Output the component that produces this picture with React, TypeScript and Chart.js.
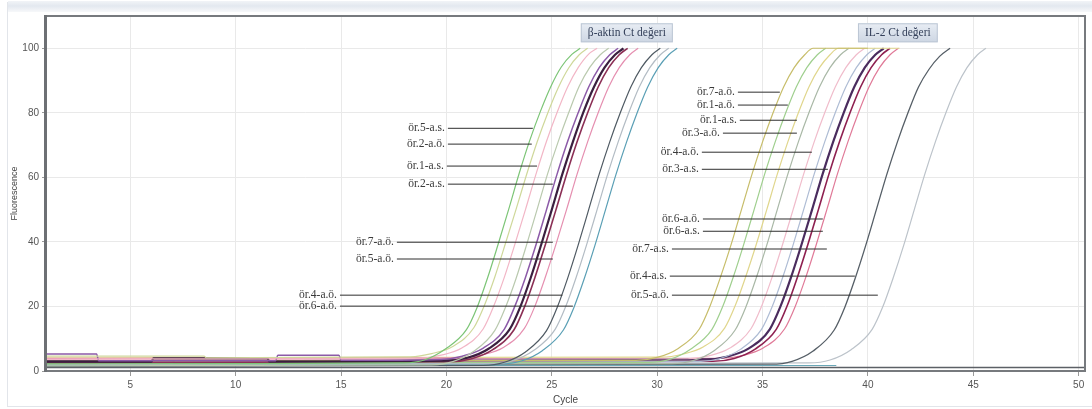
import React, { useEffect, useRef } from "react";
import { Chart, registerables } from "chart.js";

Chart.register(...registerables);

// ---- axis ticks ----
const X_TICKS = [5, 10, 15, 20, 25, 30, 35, 40, 45, 50];
const Y_TICKS = [0, 20, 40, 60, 80, 100];

// ---- β-aktin amplification curves: [cycle, fluorescence] ----
const ACT_1: number[][] = [[1, 2.2], [10, 2.3], [17.95, 2.5], [18.95, 3.4], [19.95, 6.8], [20.95, 12.8], [21.45, 19.6], [21.95, 28.8], [22.45, 39.2], [22.95, 50], [23.45, 61.2], [23.95, 71.4], [24.45, 80.3], [24.95, 88.1], [25.45, 94.2], [25.95, 98.1], [26.35, 100]];
const ACT_2: number[][] = [[1, 4.6], [8.5, 4.6], [8.6, 4.1], [18.3, 4.4], [19.3, 5.4], [20.3, 7.6], [21.3, 13.4], [21.8, 20.3], [22.3, 29.2], [22.8, 39.5], [23.3, 50], [23.8, 60.8], [24.3, 70.9], [24.8, 79.8], [25.3, 87.7], [25.8, 93.9], [26.3, 98], [26.7, 100]];
const ACT_3: number[][] = [[1, 3.7], [14, 3.8], [18.75, 4.0], [19.75, 4.9], [20.75, 7.2], [21.75, 13.1], [22.25, 20.2], [22.75, 29.1], [23.25, 39.3], [23.75, 50], [24.25, 61], [24.75, 71.2], [25.25, 80.1], [25.75, 88], [26.25, 94], [26.75, 98.2], [27.15, 100]];
const ACT_4: number[][] = [[1, 1.6], [19.3, 1.9], [20.3, 2.9], [21.3, 6.1], [22.3, 12.6], [22.8, 19.7], [23.3, 28.6], [23.8, 39], [24.3, 50], [24.8, 61.1], [25.3, 71], [25.8, 80], [26.3, 88.2], [26.8, 94.1], [27.3, 98], [27.7, 100]];
const ACT_5: number[][] = [[1, 5.3], [3.4, 5.3], [3.5, 3.2], [11.9, 3.2], [12, 4.9], [14.9, 4.9], [15, 3.3], [19.75, 3.6], [20.75, 4.6], [21.75, 7.1], [22.75, 13], [23.25, 20.1], [23.75, 29], [24.25, 39.1], [24.75, 50], [25.25, 61], [25.75, 71.1], [26.25, 80], [26.75, 88], [27.25, 94], [27.75, 98], [28.15, 100]];
const ACT_6: number[][] = [[1, 2.9], [6, 2.9], [6.1, 3.9], [11.5, 3.9], [11.6, 2.9], [20, 3.2], [21, 4.1], [22, 6.9], [23, 12.9], [23.5, 19.8], [24, 28.9], [24.5, 39.2], [25, 50], [25.5, 61], [26, 71], [26.5, 80.2], [27, 88], [27.5, 94], [28, 98], [28.4, 100]];
const ACT_7: number[][] = [[1, 2.6], [20.2, 2.9], [21.2, 3.8], [22.2, 6.6], [23.2, 12.7], [23.7, 19.8], [24.2, 29], [24.7, 39.3], [25.2, 50], [25.7, 60.9], [26.2, 71], [26.7, 80], [27.2, 88], [27.7, 94], [28.2, 98], [28.6, 100]];
const ACT_8: number[][] = [[1, 3.9], [20.7, 4.1], [21.7, 5], [22.7, 7.3], [23.7, 13.2], [24.2, 20.1], [24.7, 29.2], [25.2, 39.3], [25.7, 50], [26.2, 61], [26.7, 71], [27.2, 80], [27.7, 88], [28.2, 94], [28.7, 98], [29.1, 100]];
const ACT_9: number[][] = [[1, 1.4], [21.75, 1.7], [22.75, 2.7], [23.75, 5.9], [24.75, 12.5], [25.25, 19.6], [25.75, 28.7], [26.25, 39], [26.75, 50], [27.25, 61], [27.75, 71], [28.25, 80], [28.75, 88], [29.25, 94], [29.75, 98], [30.15, 100]];
const ACT_10: number[][] = [[1, 2.0], [22.15, 2.3], [23.15, 3.2], [24.15, 6.4], [25.15, 12.8], [25.65, 19.8], [26.15, 28.9], [26.65, 39.1], [27.15, 50], [27.65, 61], [28.15, 71], [28.65, 80], [29.15, 88], [29.65, 94], [30.15, 98], [30.55, 100]];
const ACT_11: number[][] = [[1, 1.9], [22.55, 2.2], [23.55, 3.1], [24.55, 6.3], [25.55, 12.7], [26.05, 19.7], [26.55, 28.8], [27.05, 39], [27.55, 50], [28.05, 61], [28.55, 71], [29.05, 80], [29.55, 88], [30.05, 94], [30.55, 98], [30.95, 100]];

// ---- IL-2 amplification curves ----
const IL_1: number[][] = [[1, 3.0], [29, 3.3], [30, 4.2], [31, 7], [32, 13], [32.5, 20], [33, 29], [33.5, 39], [34, 50], [34.5, 61], [35, 71], [35.5, 80], [36, 88], [36.5, 94], [37, 98], [37.4, 100], [40, 100]];
const IL_2: number[][] = [[1, 2.4], [29.6, 2.7], [30.6, 3.6], [31.6, 6.8], [32.6, 12.9], [33.1, 19.8], [33.6, 28.9], [34.1, 39.1], [34.6, 50], [35.1, 61], [35.6, 71], [36.1, 80], [36.6, 88], [37.1, 94], [37.6, 98], [38, 100]];
const IL_3: number[][] = [[1, 4.1], [30.2, 4.3], [31.2, 5.2], [32.2, 7.5], [33.2, 13.3], [33.7, 20.2], [34.2, 29.2], [34.7, 39.2], [35.2, 50], [35.7, 61], [36.2, 71], [36.7, 80], [37.2, 88], [37.7, 94], [38.2, 98], [38.6, 100], [41.5, 100]];
const IL_4: number[][] = [[1, 2.0], [30.7, 2.3], [31.7, 3.2], [32.7, 6.3], [33.7, 12.7], [34.2, 19.7], [34.7, 28.8], [35.2, 39], [35.7, 50], [36.2, 61], [36.7, 71], [37.2, 80], [37.7, 88], [38.2, 94], [38.7, 98], [39.1, 100]];
const IL_5: number[][] = [[1, 3.5], [31.45, 3.8], [32.45, 4.7], [33.45, 7.1], [34.45, 13.1], [34.95, 20], [35.45, 29], [35.95, 39.2], [36.45, 50], [36.95, 61], [37.45, 71], [37.95, 80], [38.45, 88], [38.95, 94], [39.45, 98], [39.85, 100]];
const IL_6: number[][] = [[1, 2.6], [31.95, 2.9], [32.95, 3.8], [33.95, 6.7], [34.95, 12.9], [35.45, 19.8], [35.95, 28.9], [36.45, 39.1], [36.95, 50], [37.45, 61], [37.95, 71], [38.45, 80], [38.95, 88], [39.45, 94], [39.95, 98], [40.35, 100]];
const IL_7: number[][] = [[1, 3.3], [7, 3.3], [7.1, 2.4], [11.4, 2.4], [11.5, 3.3], [32.35, 3.6], [33.35, 4.5], [34.35, 7], [35.35, 13], [35.85, 20], [36.35, 29], [36.85, 39.2], [37.35, 50], [37.85, 61], [38.35, 71], [38.85, 80], [39.35, 88], [39.85, 94], [40.35, 98], [40.75, 100]];
const IL_8: number[][] = [[1, 2.7], [32.65, 3.0], [33.65, 3.9], [34.65, 6.8], [35.65, 12.9], [36.15, 19.9], [36.65, 29], [37.15, 39.2], [37.65, 50], [38.15, 61], [38.65, 71], [39.15, 80], [39.65, 88], [40.15, 94], [40.65, 98], [41.05, 100]];
const IL_9: number[][] = [[1, 3.6], [33.05, 3.9], [34.05, 4.8], [35.05, 7.2], [36.05, 13.1], [36.55, 20], [37.05, 29], [37.55, 39.2], [38.05, 50], [38.55, 61], [39.05, 71], [39.55, 80], [40.05, 88], [40.55, 94], [41.05, 98], [41.45, 100]];
const IL_10: number[][] = [[1, 1.8], [35.4, 2.1], [36.4, 3.0], [37.4, 6.2], [38.4, 12.7], [38.9, 19.7], [39.4, 28.8], [39.9, 39], [40.4, 50], [40.9, 61], [41.4, 71], [41.9, 80], [42.4, 88], [42.9, 93.5], [43.4, 97.5], [43.9, 100]];
const IL_11: number[][] = [[1, 2.2], [37.2, 2.5], [38.2, 3.4], [39.2, 6.6], [40.2, 12.9], [40.7, 19.8], [41.2, 28.9], [41.7, 39], [42.2, 50], [42.7, 61], [43.2, 71], [43.7, 80], [44.2, 88], [44.7, 94], [45.2, 98], [45.6, 100]];

// ---- flat (non-amplifying) traces ----
const NTC_1: number[][] = [[1, 1.1], [50.3, 1.1]];
const NTC_2: number[][] = [[1, 1.7], [38.5, 1.7]];

// ---- curve styling (kept separate from values) ----
const CURVES = [
  { d: ACT_1, c: "#7cc576", w: 1.2 },
  { d: ACT_2, c: "#cfd89a", w: 1.2 },
  { d: ACT_3, c: "#f2b6c6", w: 1.2 },
  { d: ACT_4, c: "#b9c9ae", w: 1.2 },
  { d: ACT_5, c: "#8c5aa8", w: 1.5 },
  { d: ACT_6, c: "#3a1f3f", w: 2.2 },
  { d: ACT_7, c: "#8b2f55", w: 1.6 },
  { d: ACT_8, c: "#e58fb0", w: 1.2 },
  { d: ACT_9, c: "#4f5a63", w: 1.2 },
  { d: ACT_10, c: "#b3bcc4", w: 1.2 },
  { d: ACT_11, c: "#5a9fb5", w: 1.2 },
  { d: IL_1, c: "#c7bd6a", w: 1.2 },
  { d: IL_2, c: "#9fcf8e", w: 1.2 },
  { d: IL_3, c: "#e0d68c", w: 1.2 },
  { d: IL_4, c: "#a9b8a6", w: 1.2 },
  { d: IL_5, c: "#f0bccb", w: 1.2 },
  { d: IL_6, c: "#aebcd4", w: 1.2 },
  { d: IL_7, c: "#4a2c5e", w: 2.2 },
  { d: IL_8, c: "#8e2050", w: 1.6 },
  { d: IL_9, c: "#e07a98", w: 1.2 },
  { d: IL_10, c: "#555e66", w: 1.3 },
  { d: IL_11, c: "#bcc3ca", w: 1.2 },
  { d: NTC_1, c: "#5c6066", w: 1.5 },
  { d: NTC_2, c: "#6aa8b8", w: 1.2 },
];

// ---- sample annotations (label, level, line from -> to in cycles) ----
const ANN_LABELS = [
  "ör.5-a.s.", "ör.2-a.ö.", "ör.1-a.s.", "ör.2-a.s.", "ör.7-a.ö.", "ör.5-a.ö.", "ör.4-a.ö.", "ör.6-a.ö.",
  "ör.7-a.ö.", "ör.1-a.ö.", "ör.1-a.s.", "ör.3-a.ö.", "ör.4-a.ö.", "ör.3-a.s.", "ör.6-a.ö.", "ör.6-a.s.", "ör.7-a.s.", "ör.4-a.s.", "ör.5-a.ö.",
];
const ANN_Y = [75.2, 70.3, 63.5, 57.9, 39.9, 34.7, 23.5, 20.1, 86.4, 82.4, 77.7, 73.7, 67.8, 62.5, 47.1, 43.3, 37.8, 29.4, 23.5];
const ANN_X0 = [20.07, 20.07, 20.02, 20.07, 17.65, 17.65, 14.95, 14.95, 33.83, 33.83, 33.92, 33.12, 32.12, 32.12, 32.17, 32.17, 30.7, 30.6, 30.7];
const ANN_X1 = [24.1, 24.05, 24.3, 25.05, 25.05, 25.05, 25.5, 26.0, 35.82, 36.2, 36.63, 36.63, 37.34, 38.1, 37.86, 37.86, 38.05, 39.38, 40.47];

// ---- header boxes ----
const BOX_LABELS = ["β-aktin Ct değeri", "IL-2 Ct değeri"];
const BOX_X = [28.56, 41.42];
const BOX_Y = [104.8, 104.8];

const overlay = {
  id: "overlay",
  beforeDraw(chart: any) {
    const { ctx, width, height } = chart;
    ctx.save();
    ctx.fillStyle = "#ffffff";
    ctx.fillRect(0, 0, width, height);
    const g = ctx.createLinearGradient(0, 0, 0, 12);
    g.addColorStop(0, "#f4f6f9");
    g.addColorStop(0.5, "#e3e8ef");
    g.addColorStop(1, "#f7f8fa");
    ctx.fillStyle = g;
    ctx.fillRect(8, 1, width - 8, 11);
    ctx.strokeStyle = "#e2e5ea";
    ctx.lineWidth = 1;
    ctx.beginPath();
    ctx.moveTo(7.5, 2);
    ctx.lineTo(7.5, height - 2);
    ctx.moveTo(8, height - 2.5);
    ctx.lineTo(width, height - 2.5);
    ctx.stroke();
    ctx.restore();
  },
  afterDatasetsDraw(chart: any) {
    const { ctx, chartArea: a, scales } = chart;
    const xs = scales.x;
    const ys = scales.y;
    ctx.save();
    // plot frame
    ctx.strokeStyle = "#777a7e";
    ctx.lineWidth = 2;
    ctx.strokeRect(a.left, a.top, a.right - a.left, a.bottom - a.top);
    ctx.fillStyle = "#6d7074";
    ctx.fillRect(a.left - 2, a.top - 1, 3, a.bottom - a.top + 2);
    // annotation labels
    ctx.font = "11.5px 'Liberation Serif', serif";
    ctx.fillStyle = "#3a3a3a";
    ctx.textAlign = "right";
    ctx.textBaseline = "middle";
    ANN_LABELS.forEach((t, i) => {
      const px = xs.getPixelForValue(ANN_X0[i]);
      const py = ys.getPixelForValue(ANN_Y[i]);
      ctx.fillText(t, px - 3, py);
    });
    // header boxes
    ctx.font = "11.5px 'Liberation Serif', serif";
    ctx.textAlign = "center";
    BOX_LABELS.forEach((t, i) => {
      const cx = xs.getPixelForValue(BOX_X[i]);
      const cy = ys.getPixelForValue(BOX_Y[i]);
      const w = ctx.measureText(t).width + 14;
      const h = 19;
      const gr = ctx.createLinearGradient(0, cy - h / 2, 0, cy + h / 2);
      gr.addColorStop(0, "#e8edf4");
      gr.addColorStop(1, "#cdd6e3");
      ctx.fillStyle = gr;
      ctx.fillRect(cx - w / 2, cy - h / 2, w, h);
      ctx.strokeStyle = "#bcc6d4";
      ctx.lineWidth = 1;
      ctx.strokeRect(cx - w / 2 + 0.5, cy - h / 2 + 0.5, w - 1, h - 1);
      ctx.fillStyle = "#34405a";
      ctx.fillText(t, cx, cy + 0.5);
    });
    ctx.restore();
  },
};

export default function App() {
  const ref = useRef<HTMLCanvasElement | null>(null);

  useEffect(() => {
    document.body.style.margin = "0";
    const canvas = ref.current;
    if (!canvas) return;

    const annSets = ANN_LABELS.map((_, i) => ({
      label: "ann" + i,
      data: [
        { x: ANN_X0[i], y: ANN_Y[i] },
        { x: ANN_X1[i], y: ANN_Y[i] },
      ],
      borderColor: "#2e2e2e",
      borderWidth: 1,
      pointRadius: 0,
      tension: 0,
    }));

    const curveSets = CURVES.map((cv, i) => ({
      label: "curve" + i,
      data: cv.d.map((p) => ({ x: p[0], y: p[1] })),
      borderColor: cv.c,
      borderWidth: cv.w,
      pointRadius: 0,
      cubicInterpolationMode: "monotone" as const,
    }));

    const chart = new Chart(canvas, {
      type: "line",
      data: { datasets: [...annSets, ...curveSets] as any },
      plugins: [overlay],
      options: {
        animation: false,
        responsive: false,
        devicePixelRatio: 1,
        events: [],
        layout: { padding: { left: 0, right: 7, top: 16, bottom: 0 } },
        plugins: { legend: { display: false }, tooltip: { enabled: false } },
        scales: {
          x: {
            type: "linear",
            min: 1,
            max: 50.3,
            afterBuildTicks: (s: any) => {
              s.ticks = X_TICKS.map((v) => ({ value: v }));
            },
            afterFit: (s: any) => {
              s.height = 38;
            },
            grid: { color: "#e9e9e9", tickLength: 5, tickColor: "#9a9a9a", drawOnChartArea: true },
            border: { display: false },
            ticks: {
              font: { family: "'Liberation Sans', Arial, sans-serif", size: 10 },
              color: "#555",
              padding: 3,
              maxRotation: 0,
            },
            title: {
              display: true,
              text: "Cycle",
              font: { family: "'Liberation Sans', Arial, sans-serif", size: 10 },
              color: "#444",
              padding: { top: 0, bottom: 3 },
            },
          },
          y: {
            type: "linear",
            min: 0,
            max: 110,
            afterBuildTicks: (s: any) => {
              s.ticks = Y_TICKS.map((v) => ({ value: v }));
            },
            afterFit: (s: any) => {
              s.width = 46;
            },
            grid: { color: "#e9e9e9", tickLength: 4, tickColor: "#9a9a9a" },
            border: { display: false },
            ticks: {
              font: { family: "'Liberation Sans', Arial, sans-serif", size: 10 },
              color: "#555",
              padding: 3,
            },
            title: {
              display: true,
              text: "Fluorescence",
              font: { family: "'Liberation Sans', Arial, sans-serif", size: 9 },
              color: "#444",
              padding: { top: 9, bottom: 0 },
            },
          },
        },
      },
    });
    return () => chart.destroy();
  }, []);

  return (
    <canvas
      ref={ref}
      width={1092}
      height={409}
      style={{ display: "block", width: 1092, height: 409 }}
    />
  );
}
